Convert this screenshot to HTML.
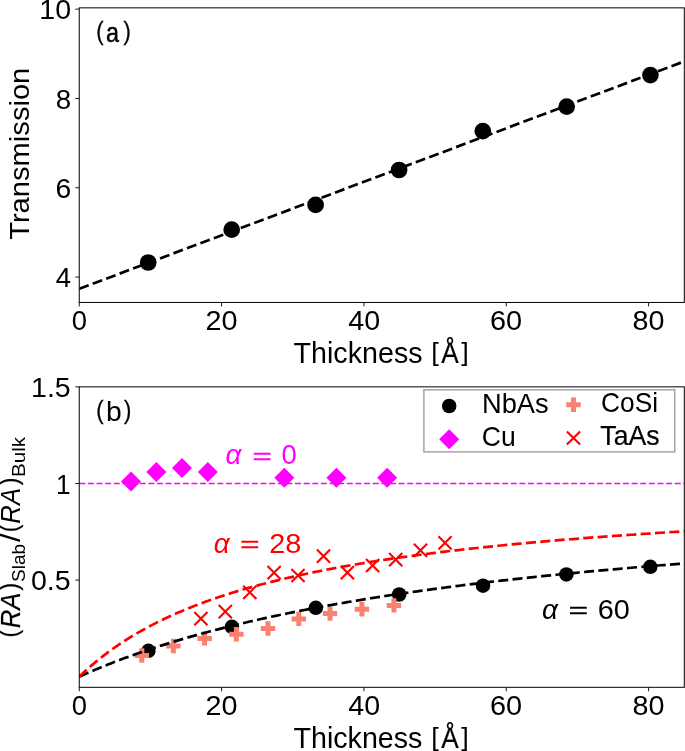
<!DOCTYPE html>
<html><head><meta charset="utf-8"><title>Transmission and RA ratio vs thickness</title><style>
html,body{margin:0;padding:0;background:#fff;overflow:hidden;}svg{display:block;will-change:transform;}
svg{font-family:"Liberation Sans",sans-serif;font-size:27.5px;}text{font-family:"Liberation Sans",sans-serif;}
</style></head><body>
<svg width="685" height="751" viewBox="0 0 685 751">
<defs><clipPath id="ca"><rect x="79.25" y="7.85" width="605.05" height="294.6"/></clipPath>
<clipPath id="cb"><rect x="79.25" y="386.85" width="605.05" height="300.45"/></clipPath></defs>
<g clip-path="url(#ca)"><line x1="79.25" y1="288.8" x2="691.31" y2="58.72" stroke="#000" stroke-width="2.7" stroke-dasharray="10.04 4.34"/></g>
<circle cx="148.2" cy="262.5" r="8.35" fill="#000"/>
<circle cx="231.7" cy="229.7" r="8.35" fill="#000"/>
<circle cx="315.6" cy="204.9" r="8.35" fill="#000"/>
<circle cx="399.1" cy="170" r="8.35" fill="#000"/>
<circle cx="482.8" cy="131.2" r="8.35" fill="#000"/>
<circle cx="566.7" cy="106.6" r="8.35" fill="#000"/>
<circle cx="650.4" cy="75.1" r="8.35" fill="#000"/>
<rect x="79.25" y="7.85" width="605.05" height="294.6" fill="none" stroke="#000" stroke-width="1.0"/>
<path d="M75.25 277.05L79.25 277.05M75.25 187.75L79.25 187.75M75.25 98.45L79.25 98.45M75.25 9.15L79.25 9.15M79.25 302.45L79.25 306.45M221.59 302.45L221.59 306.45M363.93 302.45L363.93 306.45M506.27 302.45L506.27 306.45M648.61 302.45L648.61 306.45M75.25 580.09L79.25 580.09M75.25 483.47L79.25 483.47M75.25 386.86L79.25 386.86M79.25 687.3L79.25 691.3M221.59 687.3L221.59 691.3M363.93 687.3L363.93 691.3M506.27 687.3L506.27 691.3M648.61 687.3L648.61 691.3" stroke="#000" stroke-width="0.9" fill="none"/>
<text x="55.85" y="287" textLength="15.24" lengthAdjust="spacingAndGlyphs">4</text>
<text x="55.58" y="198" textLength="15.78" lengthAdjust="spacingAndGlyphs">6</text>
<text x="55.77" y="109" textLength="15.41" lengthAdjust="spacingAndGlyphs">8</text>
<text x="39.35" y="19" textLength="31.79" lengthAdjust="spacingAndGlyphs">10</text>
<text x="71.63" y="330" textLength="15.24" lengthAdjust="spacingAndGlyphs">0</text>
<text x="205.42" y="330" textLength="32.03" lengthAdjust="spacingAndGlyphs">20</text>
<text x="348.23" y="330" textLength="31.86" lengthAdjust="spacingAndGlyphs">40</text>
<text x="490.03" y="330" textLength="32.14" lengthAdjust="spacingAndGlyphs">60</text>
<text x="632.56" y="330" textLength="31.96" lengthAdjust="spacingAndGlyphs">80</text>
<text x="31" y="590" textLength="39.68" lengthAdjust="spacingAndGlyphs">0.5</text>
<text x="56.07" y="494" textLength="14.56" lengthAdjust="spacingAndGlyphs">1</text>
<text x="31.09" y="397" textLength="39.58" lengthAdjust="spacingAndGlyphs">1.5</text>
<text x="71.63" y="715" textLength="15.24" lengthAdjust="spacingAndGlyphs">0</text>
<text x="205.42" y="715" textLength="32.03" lengthAdjust="spacingAndGlyphs">20</text>
<text x="348.23" y="715" textLength="31.86" lengthAdjust="spacingAndGlyphs">40</text>
<text x="490.03" y="715" textLength="32.14" lengthAdjust="spacingAndGlyphs">60</text>
<text x="632.56" y="715" textLength="31.96" lengthAdjust="spacingAndGlyphs">80</text>
<text x="96.24" y="40.29" font-size="24.86" stroke="#000" stroke-width="0.33" textLength="7.32" lengthAdjust="spacingAndGlyphs">(</text><text x="106.08" y="42" stroke="#000" stroke-width="0.44" textLength="13" lengthAdjust="spacingAndGlyphs">a</text><text x="123.4" y="40.29" font-size="24.86" stroke="#000" stroke-width="0.33" textLength="7.32" lengthAdjust="spacingAndGlyphs">)</text>
<text x="96.24" y="419.29" font-size="24.86" stroke="#000" stroke-width="0.33" textLength="7.32" lengthAdjust="spacingAndGlyphs">(</text><text x="106.05" y="421" textLength="15.73" lengthAdjust="spacingAndGlyphs">b</text><text x="123.97" y="419.29" font-size="24.86" stroke="#000" stroke-width="0.33" textLength="7.32" lengthAdjust="spacingAndGlyphs">)</text>
<text x="293.56" y="363" font-size="28.6" textLength="128.99" lengthAdjust="spacingAndGlyphs">Thickness</text><text x="431.35" y="361.22" font-size="25.85" textLength="7.53" lengthAdjust="spacingAndGlyphs">[</text><text x="441.34" y="363" font-size="28.6" stroke="#000" stroke-width="0.23" textLength="17.47" lengthAdjust="spacingAndGlyphs">Å</text><text x="461.29" y="361.22" font-size="25.85" textLength="7.53" lengthAdjust="spacingAndGlyphs">]</text>
<text x="293.46" y="748" font-size="28.6" textLength="128.99" lengthAdjust="spacingAndGlyphs">Thickness</text><text x="431.25" y="746.22" font-size="25.85" textLength="7.53" lengthAdjust="spacingAndGlyphs">[</text><text x="441.24" y="748" font-size="28.6" stroke="#000" stroke-width="0.23" textLength="17.47" lengthAdjust="spacingAndGlyphs">Å</text><text x="461.19" y="746.22" font-size="25.85" textLength="7.53" lengthAdjust="spacingAndGlyphs">]</text>
<g transform="translate(29 239.2) rotate(-90)"><text x="-0.65" y="0" textLength="172.18" lengthAdjust="spacingAndGlyphs">Transmission</text></g>
<g clip-path="url(#cb)">
<circle cx="148.4" cy="650.8" r="7.25" fill="#000"/>
<circle cx="231.9" cy="626.8" r="7.25" fill="#000"/>
<circle cx="315.8" cy="607.8" r="7.25" fill="#000"/>
<circle cx="399.2" cy="594.5" r="7.25" fill="#000"/>
<circle cx="483" cy="585.7" r="7.25" fill="#000"/>
<circle cx="566.4" cy="574.4" r="7.25" fill="#000"/>
<circle cx="650.3" cy="566.8" r="7.25" fill="#000"/>
<path d="M139.3 648.3L144.3 648.3L144.3 653L149 653L149 658L144.3 658L144.3 662.7L139.3 662.7L139.3 658L134.6 658L134.6 653L139.3 653Z" fill="#fa8072"/>
<path d="M170.9 638.8L175.9 638.8L175.9 643.5L180.6 643.5L180.6 648.5L175.9 648.5L175.9 653.2L170.9 653.2L170.9 648.5L166.2 648.5L166.2 643.5L170.9 643.5Z" fill="#fa8072"/>
<path d="M202.1 631.2L207.1 631.2L207.1 635.9L211.8 635.9L211.8 640.9L207.1 640.9L207.1 645.6L202.1 645.6L202.1 640.9L197.4 640.9L197.4 635.9L202.1 635.9Z" fill="#fa8072"/>
<path d="M233.9 627L238.9 627L238.9 631.7L243.6 631.7L243.6 636.7L238.9 636.7L238.9 641.4L233.9 641.4L233.9 636.7L229.2 636.7L229.2 631.7L233.9 631.7Z" fill="#fa8072"/>
<path d="M265.5 621.3L270.5 621.3L270.5 626L275.2 626L275.2 631L270.5 631L270.5 635.7L265.5 635.7L265.5 631L260.8 631L260.8 626L265.5 626Z" fill="#fa8072"/>
<path d="M296.3 611.7L301.3 611.7L301.3 616.4L306 616.4L306 621.4L301.3 621.4L301.3 626.1L296.3 626.1L296.3 621.4L291.6 621.4L291.6 616.4L296.3 616.4Z" fill="#fa8072"/>
<path d="M327.5 606.4L332.5 606.4L332.5 611.1L337.2 611.1L337.2 616.1L332.5 616.1L332.5 620.8L327.5 620.8L327.5 616.1L322.8 616.1L322.8 611.1L327.5 611.1Z" fill="#fa8072"/>
<path d="M359.4 602L364.4 602L364.4 606.7L369.1 606.7L369.1 611.7L364.4 611.7L364.4 616.4L359.4 616.4L359.4 611.7L354.7 611.7L354.7 606.7L359.4 606.7Z" fill="#fa8072"/>
<path d="M391.4 598.2L396.4 598.2L396.4 602.9L401.1 602.9L401.1 607.9L396.4 607.9L396.4 612.6L391.4 612.6L391.4 607.9L386.7 607.9L386.7 602.9L391.4 602.9Z" fill="#fa8072"/>
<path d="M131 471.5L141 481.5L131 491.5L121 481.5Z" fill="#ff00ff"/>
<path d="M156.4 461.9L166.4 471.9L156.4 481.9L146.4 471.9Z" fill="#ff00ff"/>
<path d="M182 458.1L192 468.1L182 478.1L172 468.1Z" fill="#ff00ff"/>
<path d="M207.8 461.9L217.8 471.9L207.8 481.9L197.8 471.9Z" fill="#ff00ff"/>
<path d="M284.3 467.8L294.3 477.8L284.3 487.8L274.3 477.8Z" fill="#ff00ff"/>
<path d="M336.4 467.8L346.4 477.8L336.4 487.8L326.4 477.8Z" fill="#ff00ff"/>
<path d="M387.1 467.8L397.1 477.8L387.1 487.8L377.1 477.8Z" fill="#ff00ff"/>
<path d="M194.3 612L207.5 625.2M194.3 625.2L207.5 612" stroke="#ff0000" stroke-width="2.1" fill="none"/>
<path d="M218.7 605L231.9 618.2M218.7 618.2L231.9 605" stroke="#ff0000" stroke-width="2.1" fill="none"/>
<path d="M243.2 585.7L256.4 598.9M243.2 598.9L256.4 585.7" stroke="#ff0000" stroke-width="2.1" fill="none"/>
<path d="M267.5 566.1L280.7 579.3M267.5 579.3L280.7 566.1" stroke="#ff0000" stroke-width="2.1" fill="none"/>
<path d="M291.4 568.9L304.6 582.1M291.4 582.1L304.6 568.9" stroke="#ff0000" stroke-width="2.1" fill="none"/>
<path d="M316.9 549.6L330.1 562.8M316.9 562.8L330.1 549.6" stroke="#ff0000" stroke-width="2.1" fill="none"/>
<path d="M340.8 566L354 579.2M340.8 579.2L354 566" stroke="#ff0000" stroke-width="2.1" fill="none"/>
<path d="M366 558.9L379.2 572.1M366 572.1L379.2 558.9" stroke="#ff0000" stroke-width="2.1" fill="none"/>
<path d="M389.1 553.1L402.3 566.3M389.1 566.3L402.3 553.1" stroke="#ff0000" stroke-width="2.1" fill="none"/>
<path d="M413.9 543.8L427.1 557M413.9 557L427.1 543.8" stroke="#ff0000" stroke-width="2.1" fill="none"/>
<path d="M438.4 536.3L451.6 549.5M438.4 549.5L451.6 536.3" stroke="#ff0000" stroke-width="2.1" fill="none"/>
<line x1="79.25" y1="483.47" x2="691.31" y2="483.47" stroke="#ff00ff" stroke-width="1.6" stroke-dasharray="6.02 2.61"/>
<path d="M79.25 676.7L79.37 676.65L79.58 676.55L79.86 676.42L80.19 676.27L80.57 676.11L80.98 675.92L81.43 675.72L81.92 675.5L82.43 675.27L82.97 675.03L83.55 674.77L84.15 674.51L84.77 674.23L85.42 673.95L86.09 673.65L86.79 673.35L87.51 673.03L88.25 672.71L89.01 672.38L89.79 672.05L90.59 671.7L91.4 671.35L92.24 670.99L93.1 670.63L93.97 670.26L94.87 669.88L95.78 669.5L96.7 669.11L97.65 668.72L98.61 668.32L99.58 667.92L100.57 667.51L101.58 667.1L102.6 666.68L103.64 666.26L104.69 665.83L105.76 665.41L106.84 664.97L107.94 664.54L109.05 664.1L110.17 663.65L111.31 663.21L112.46 662.76L113.63 662.3L114.81 661.85L116 661.39L117.2 660.93L118.42 660.46L119.65 660L120.9 659.53L122.15 659.06L123.42 658.59L124.7 658.11L125.99 657.64L127.3 657.16L128.61 656.68L129.94 656.2L131.28 655.71L132.63 655.23L133.99 654.74L135.37 654.26L136.75 653.77L138.15 653.28L139.56 652.79L140.98 652.3L142.41 651.8L143.85 651.31L145.3 650.82L146.76 650.32L148.24 649.83L149.72 649.33L151.21 648.83L152.72 648.34L154.23 647.84L155.76 647.34L157.29 646.84L158.84 646.34L160.39 645.84L161.96 645.35L163.53 644.85L165.12 644.35L166.72 643.85L168.32 643.35L169.93 642.85L171.56 642.35L173.19 641.86L174.84 641.36L176.49 640.86L178.15 640.36L179.82 639.87L181.5 639.37L183.19 638.87L184.89 638.38L186.6 637.88L188.32 637.39L190.05 636.89L191.78 636.4L193.53 635.91L195.28 635.41L197.04 634.92L198.81 634.43L200.59 633.94L202.38 633.45L204.18 632.96L205.99 632.48L207.8 631.99L209.62 631.5L211.46 631.02L213.3 630.53L215.14 630.05L217 629.57L218.87 629.09L220.74 628.61L222.62 628.13L224.51 627.65L226.41 627.18L228.32 626.7L230.24 626.22L232.16 625.75L234.09 625.28L236.03 624.81L237.98 624.34L239.93 623.87L241.9 623.4L243.87 622.94L245.85 622.47L247.84 622.01L249.83 621.54L251.83 621.08L253.84 620.62L255.86 620.16L257.89 619.71L259.92 619.25L261.96 618.8L264.01 618.34L266.07 617.89L268.13 617.44L270.21 616.99L272.28 616.54L274.37 616.1L276.47 615.65L278.57 615.21L280.68 614.77L282.79 614.33L284.92 613.89L287.05 613.45L289.19 613.01L291.33 612.58L293.49 612.14L295.65 611.71L297.81 611.28L299.99 610.85L302.17 610.42L304.36 610L306.56 609.57L308.76 609.15L310.97 608.73L313.19 608.31L315.41 607.89L317.64 607.47L319.88 607.06L322.13 606.64L324.38 606.23L326.64 605.82L328.9 605.41L331.18 605L333.46 604.59L335.74 604.19L338.04 603.79L340.34 603.38L342.65 602.98L344.96 602.58L347.28 602.19L349.61 601.79L351.94 601.39L354.28 601L356.63 600.61L358.98 600.22L361.34 599.83L363.71 599.44L366.08 599.06L368.46 598.67L370.85 598.29L373.25 597.91L375.65 597.53L378.05 597.15L380.46 596.78L382.88 596.4L385.31 596.03L387.74 595.65L390.18 595.28L392.63 594.91L395.08 594.55L397.53 594.18L400 593.82L402.47 593.45L404.95 593.09L407.43 592.73L409.92 592.37L412.41 592.01L414.92 591.66L417.42 591.3L419.94 590.95L422.46 590.6L424.99 590.25L427.52 589.9L430.06 589.55L432.6 589.21L435.15 588.86L437.71 588.52L440.27 588.18L442.84 587.84L445.42 587.5L448 587.16L450.59 586.82L453.18 586.49L455.78 586.16L458.39 585.82L461 585.49L463.62 585.16L466.24 584.84L468.87 584.51L471.51 584.18L474.15 583.86L476.8 583.54L479.45 583.22L482.11 582.9L484.77 582.58L487.44 582.26L490.12 581.95L492.8 581.63L495.49 581.32L498.19 581.01L500.89 580.7L503.59 580.39L506.3 580.08L509.02 579.77L511.74 579.47L514.47 579.17L517.21 578.86L519.95 578.56L522.69 578.26L525.44 577.96L528.2 577.67L530.96 577.37L533.73 577.08L536.51 576.78L539.29 576.49L542.07 576.2L544.86 575.91L547.66 575.62L550.46 575.33L553.27 575.05L556.08 574.76L558.9 574.48L561.72 574.19L564.55 573.91L567.39 573.63L570.23 573.35L573.08 573.08L575.93 572.8L578.78 572.52L581.65 572.25L584.52 571.98L587.39 571.7L590.27 571.43L593.15 571.16L596.04 570.9L598.94 570.63L601.84 570.36L604.74 570.1L607.65 569.83L610.57 569.57L613.49 569.31L616.42 569.05L619.35 568.79L622.29 568.53L625.24 568.27L628.18 568.02L631.14 567.76L634.1 567.51L637.06 567.25L640.03 567L643.01 566.75L645.99 566.5L648.97 566.25L651.96 566.01L654.96 565.76L657.96 565.51L660.97 565.27L663.98 565.03L666.99 564.78L670.02 564.54L673.04 564.3L676.07 564.06L679.11 563.82L682.15 563.59L685.2 563.35L688.25 563.11L691.31 562.88" fill="none" stroke="#000" stroke-width="2.7" stroke-dasharray="10.04 4.34"/>
<path d="M79.25 676.7L79.37 676.59L79.58 676.38L79.86 676.11L80.19 675.79L80.57 675.43L80.98 675.04L81.43 674.61L81.92 674.15L82.43 673.66L82.97 673.15L83.55 672.62L84.15 672.07L84.77 671.49L85.42 670.9L86.09 670.28L86.79 669.66L87.51 669.01L88.25 668.35L89.01 667.68L89.79 667L90.59 666.3L91.4 665.59L92.24 664.87L93.1 664.14L93.97 663.41L94.87 662.66L95.78 661.9L96.7 661.14L97.65 660.37L98.61 659.59L99.58 658.81L100.57 658.02L101.58 657.23L102.6 656.43L103.64 655.63L104.69 654.82L105.76 654.01L106.84 653.2L107.94 652.38L109.05 651.56L110.17 650.74L111.31 649.92L112.46 649.1L113.63 648.27L114.81 647.44L116 646.61L117.2 645.79L118.42 644.96L119.65 644.13L120.9 643.3L122.15 642.47L123.42 641.64L124.7 640.81L125.99 639.99L127.3 639.16L128.61 638.34L129.94 637.52L131.28 636.69L132.63 635.87L133.99 635.06L135.37 634.24L136.75 633.43L138.15 632.62L139.56 631.81L140.98 631L142.41 630.2L143.85 629.4L145.3 628.6L146.76 627.8L148.24 627.01L149.72 626.22L151.21 625.43L152.72 624.65L154.23 623.87L155.76 623.09L157.29 622.32L158.84 621.55L160.39 620.79L161.96 620.02L163.53 619.26L165.12 618.51L166.72 617.76L168.32 617.01L169.93 616.27L171.56 615.53L173.19 614.79L174.84 614.06L176.49 613.33L178.15 612.61L179.82 611.89L181.5 611.17L183.19 610.46L184.89 609.75L186.6 609.05L188.32 608.35L190.05 607.65L191.78 606.96L193.53 606.28L195.28 605.59L197.04 604.91L198.81 604.24L200.59 603.57L202.38 602.9L204.18 602.24L205.99 601.58L207.8 600.93L209.62 600.28L211.46 599.63L213.3 598.99L215.14 598.36L217 597.72L218.87 597.09L220.74 596.47L222.62 595.85L224.51 595.23L226.41 594.62L228.32 594.01L230.24 593.41L232.16 592.8L234.09 592.21L236.03 591.62L237.98 591.03L239.93 590.44L241.9 589.86L243.87 589.29L245.85 588.71L247.84 588.15L249.83 587.58L251.83 587.02L253.84 586.46L255.86 585.91L257.89 585.36L259.92 584.82L261.96 584.27L264.01 583.74L266.07 583.2L268.13 582.67L270.21 582.15L272.28 581.62L274.37 581.1L276.47 580.59L278.57 580.07L280.68 579.57L282.79 579.06L284.92 578.56L287.05 578.06L289.19 577.57L291.33 577.08L293.49 576.59L295.65 576.11L297.81 575.63L299.99 575.15L302.17 574.67L304.36 574.2L306.56 573.74L308.76 573.27L310.97 572.81L313.19 572.35L315.41 571.9L317.64 571.45L319.88 571L322.13 570.56L324.38 570.12L326.64 569.68L328.9 569.24L331.18 568.81L333.46 568.38L335.74 567.96L338.04 567.53L340.34 567.11L342.65 566.7L344.96 566.28L347.28 565.87L349.61 565.46L351.94 565.06L354.28 564.65L356.63 564.25L358.98 563.86L361.34 563.46L363.71 563.07L366.08 562.68L368.46 562.3L370.85 561.91L373.25 561.53L375.65 561.15L378.05 560.78L380.46 560.41L382.88 560.04L385.31 559.67L387.74 559.3L390.18 558.94L392.63 558.58L395.08 558.22L397.53 557.87L400 557.52L402.47 557.17L404.95 556.82L407.43 556.47L409.92 556.13L412.41 555.79L414.92 555.45L417.42 555.12L419.94 554.78L422.46 554.45L424.99 554.12L427.52 553.8L430.06 553.47L432.6 553.15L435.15 552.83L437.71 552.51L440.27 552.19L442.84 551.88L445.42 551.57L448 551.26L450.59 550.95L453.18 550.65L455.78 550.34L458.39 550.04L461 549.74L463.62 549.45L466.24 549.15L468.87 548.86L471.51 548.57L474.15 548.28L476.8 547.99L479.45 547.7L482.11 547.42L484.77 547.14L487.44 546.86L490.12 546.58L492.8 546.3L495.49 546.03L498.19 545.76L500.89 545.49L503.59 545.22L506.3 544.95L509.02 544.68L511.74 544.42L514.47 544.16L517.21 543.9L519.95 543.64L522.69 543.38L525.44 543.13L528.2 542.87L530.96 542.62L533.73 542.37L536.51 542.12L539.29 541.87L542.07 541.63L544.86 541.38L547.66 541.14L550.46 540.9L553.27 540.66L556.08 540.42L558.9 540.19L561.72 539.95L564.55 539.72L567.39 539.49L570.23 539.26L573.08 539.03L575.93 538.8L578.78 538.57L581.65 538.35L584.52 538.12L587.39 537.9L590.27 537.68L593.15 537.46L596.04 537.24L598.94 537.03L601.84 536.81L604.74 536.6L607.65 536.39L610.57 536.17L613.49 535.96L616.42 535.76L619.35 535.55L622.29 535.34L625.24 535.14L628.18 534.93L631.14 534.73L634.1 534.53L637.06 534.33L640.03 534.13L643.01 533.93L645.99 533.74L648.97 533.54L651.96 533.35L654.96 533.16L657.96 532.96L660.97 532.77L663.98 532.58L666.99 532.4L670.02 532.21L673.04 532.02L676.07 531.84L679.11 531.65L682.15 531.47L685.2 531.29L688.25 531.11L691.31 530.93" fill="none" stroke="#ff0000" stroke-width="2.7" stroke-dasharray="10.04 4.34"/>
</g>
<rect x="79.25" y="386.85" width="605.05" height="300.45" fill="none" stroke="#000" stroke-width="1.0"/>
<text x="225.55" y="464.1" font-style="italic" fill="#ff00ff" textLength="15.9" lengthAdjust="spacingAndGlyphs">α</text><text x="252.59" y="463.5" font-size="22.8" fill="#ff00ff" textLength="19.23" lengthAdjust="spacingAndGlyphs" stroke="#ff00ff" stroke-width="0.5">=</text><text x="281.53" y="464.1" fill="#ff00ff" textLength="15.24" lengthAdjust="spacingAndGlyphs">0</text>
<text x="213.85" y="552.7" font-style="italic" fill="#ff0000" textLength="15.9" lengthAdjust="spacingAndGlyphs">α</text><text x="240.19" y="552.1" font-size="22.8" fill="#ff0000" textLength="19.23" lengthAdjust="spacingAndGlyphs" stroke="#ff0000" stroke-width="0.5">=</text><text x="269.15" y="552.7" fill="#ff0000" textLength="32.11" lengthAdjust="spacingAndGlyphs">28</text>
<text x="542.05" y="618.5" font-style="italic" fill="#000" textLength="15.9" lengthAdjust="spacingAndGlyphs">α</text><text x="568.79" y="617.9" font-size="22.8" fill="#000" textLength="19.23" lengthAdjust="spacingAndGlyphs" stroke="#000" stroke-width="0.5">=</text><text x="597.73" y="618.5" fill="#000" textLength="32.14" lengthAdjust="spacingAndGlyphs">60</text>
<rect x="423.9" y="389.8" width="250.9" height="62.1" fill="#fff" stroke="#9b9b9b" stroke-width="1.35"/>
<circle cx="449.2" cy="406.0" r="7.25" fill="#000"/>
<path d="M449.2 429.3L459.2 439.3L449.2 449.3L439.2 439.3Z" fill="#ff00ff"/>
<path d="M571 397.5L576 397.5L576 402.2L580.7 402.2L580.7 407.2L576 407.2L576 411.9L571 411.9L571 407.2L566.3 407.2L566.3 402.2L571 402.2Z" fill="#fa8072"/>
<path d="M566.9 431.4L580.1 444.6M566.9 444.6L580.1 431.4" stroke="#ff0000" stroke-width="2.1" fill="none"/>
<text x="481.96" y="413" textLength="66.69" lengthAdjust="spacingAndGlyphs">NbAs</text>
<text x="481.76" y="446" textLength="33.92" lengthAdjust="spacingAndGlyphs">Cu</text>
<text x="601.12" y="412" textLength="57" lengthAdjust="spacingAndGlyphs">CoSi</text>
<text x="600.35" y="445" stroke="#000" stroke-width="0.21" textLength="59.13" lengthAdjust="spacingAndGlyphs">TaAs</text>
<g transform="translate(20 636.0) rotate(-90)"><text x="-1.4" y="-1.71" font-size="24.86" stroke="#000" stroke-width="0.25" textLength="7.54" lengthAdjust="spacingAndGlyphs">(</text><text x="7.71" y="0" font-style="italic" stroke="#000" stroke-width="0.19" textLength="35.46" lengthAdjust="spacingAndGlyphs">RA</text><text x="45.57" y="-1.71" font-size="24.86" stroke="#000" stroke-width="0.25" textLength="7.54" lengthAdjust="spacingAndGlyphs">)</text><text x="53.93" y="4.5" font-size="19.25" textLength="38.17" lengthAdjust="spacingAndGlyphs">Slab</text><text x="94" y="0" textLength="8.4" lengthAdjust="spacingAndGlyphs">/</text><text x="103.8" y="-1.71" font-size="24.86" stroke="#000" stroke-width="0.25" textLength="7.54" lengthAdjust="spacingAndGlyphs">(</text><text x="112.31" y="0" font-style="italic" textLength="35.78" lengthAdjust="spacingAndGlyphs">RA</text><text x="150.77" y="-1.71" font-size="24.86" stroke="#000" stroke-width="0.25" textLength="7.54" lengthAdjust="spacingAndGlyphs">)</text><text x="159.01" y="4.5" font-size="19.25" textLength="40.06" lengthAdjust="spacingAndGlyphs">Bulk</text></g>
</svg></body></html>
